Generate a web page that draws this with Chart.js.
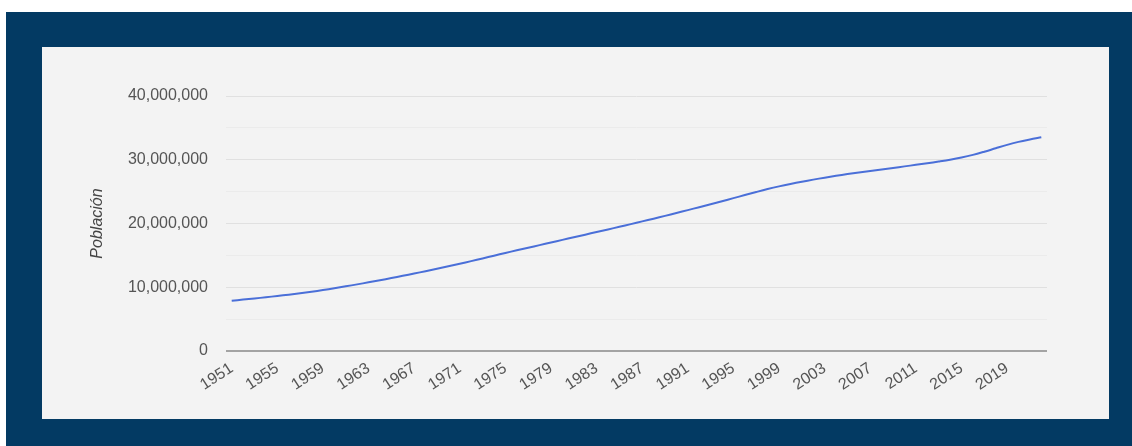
<!DOCTYPE html>
<html>
<head>
<meta charset="utf-8">
<script src="https://cdn.jsdelivr.net/npm/chart.js@4"></script>
<style>
  html, body { margin: 0; padding: 0; background: #ffffff; }
  body { width: 1132px; height: 446px; position: relative; overflow: hidden; }
  #frame { position: absolute; left: 6px; top: 12px; width: 1126px; height: 434px; background: #033a63; }
  #panel { position: absolute; left: 42px; top: 47px; width: 1067px; height: 372px; background: #f3f3f3; }
  #panel canvas { display: block; }
</style>
</head>
<body>
<div id="frame"></div>
<div id="panel"><canvas id="c" width="1067" height="372"></canvas></div>
<script>
const years = [
  1951,1952,1953,1954,1955,1956,1957,1958,1959,1960,
  1961,1962,1963,1964,1965,1966,1967,1968,1969,1970,
  1971,1972,1973,1974,1975,1976,1977,1978,1979,1980,
  1981,1982,1983,1984,1985,1986,1987,1988,1989,1990,
  1991,1992,1993,1994,1995,1996,1997,1998,1999,2000,
  2001,2002,2003,2004,2005,2006,2007,2008,2009,2010,
  2011,2012,2013,2014,2015,2016,2017,2018,2019,2020,
  2021,2022
];
const poblacion = [
  7890000,8060000,8240000,8430000,8630000,8840000,9060000,9300000,9560000,9840000,
  10140000,10450000,10770000,11100000,11440000,11790000,12150000,12520000,12900000,13290000,
  13690000,14100000,14520000,14950000,15380000,15800000,16200000,16610000,17020000,17430000,
  17840000,18250000,18660000,19070000,19480000,19900000,20330000,20760000,21200000,21650000,
  22100000,22560000,23030000,23500000,23980000,24460000,24940000,25400000,25820000,26200000,
  26550000,26880000,27190000,27480000,27750000,28000000,28240000,28480000,28720000,28960000,
  29200000,29450000,29720000,30010000,30350000,30760000,31260000,31800000,32330000,32800000,
  33180000,33520000
];
const yTickValues = [0, 10000000, 20000000, 30000000, 40000000];
const yAxisTitle = 'Población';

const fontFamily = 'Arial, "Liberation Sans", sans-serif';

new Chart(document.getElementById('c'), {
  type: 'line',
  data: {
    labels: years.map(String),
    datasets: [{
      data: poblacion,
      borderColor: '#4a6fd8',
      borderWidth: 2,
      pointRadius: 0,
      pointHoverRadius: 0,
      tension: 0.35,
      fill: false
    }]
  },
  options: {
    responsive: false,
    animation: false,
    devicePixelRatio: 1,
    layout: { padding: { left: 42, top: 49, right: 62, bottom: 0 } },
    plugins: { legend: { display: false }, tooltip: { enabled: false } },
    scales: {
      x: {
        type: 'category',
        offset: true,
        grid: { display: false, drawTicks: false },
        border: { display: false },
        ticks: {
          autoSkip: false,
          maxRotation: 33,
          minRotation: 33,
          padding: 8,
          color: '#555555',
          font: { family: fontFamily, size: 16 },
          callback: function (v, i) { return (years[i] - years[0]) % 4 === 0 ? String(years[i]) : ''; }
        },
        afterFit: function (s) { s.height = 68; }
      },
      y: {
        min: 0,
        max: 40000000,
        border: { display: false },
        grid: {
          drawTicks: false,
          lineWidth: function (ctx) { return ctx.tick && ctx.tick.value === 0 ? 2 : 1; },
          color: function (ctx) {
            if (!ctx.tick) return '#e6e6e6';
            if (ctx.tick.value === 0) return '#a3a3a3';
            return yTickValues.includes(ctx.tick.value) ? '#e0e0e0' : '#ebebeb';
          }
        },
        ticks: {
          stepSize: 5000000,
          padding: 18,
          color: '#555555',
          font: { family: fontFamily, size: 16 },
          callback: function (v) { return yTickValues.includes(v) ? v.toLocaleString('en-US') : ''; }
        },
        title: {
          display: true,
          text: yAxisTitle,
          color: '#444444',
          font: { family: fontFamily, size: 16, style: 'italic' }
        },
        afterFit: function (s) { s.width = 142; }
      }
    }
  }
});
</script>
</body>
</html>
